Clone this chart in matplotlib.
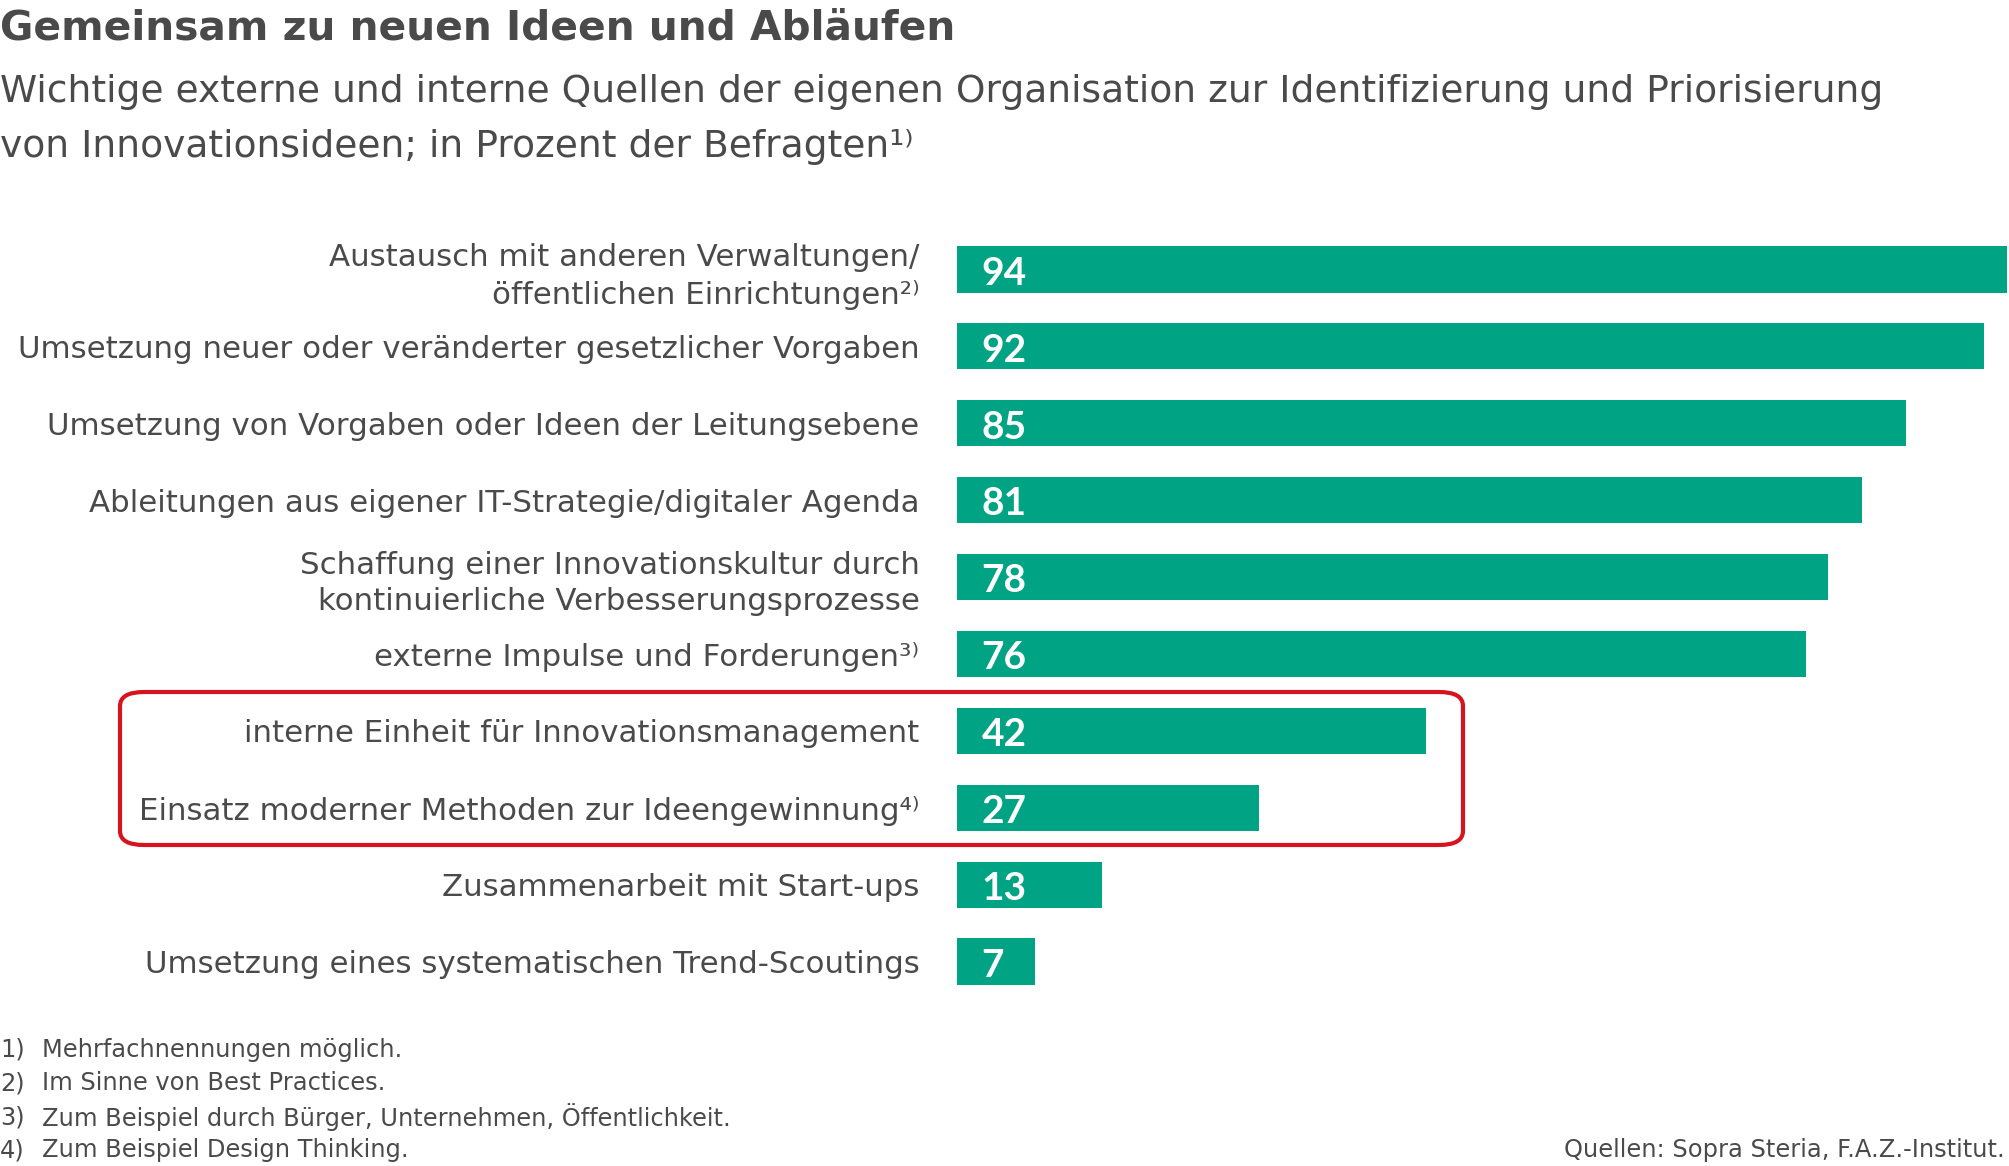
import matplotlib.pyplot as plt
from matplotlib.patches import FancyBboxPatch

plt.rcParams['font.family'] = ['DejaVu Sans']

# Daten
labels = [
    "Austausch mit anderen Verwaltungen/\nöffentlichen Einrichtungen²⁾",
    "Umsetzung neuer oder veränderter gesetzlicher Vorgaben",
    "Umsetzung von Vorgaben oder Ideen der Leitungsebene",
    "Ableitungen aus eigener IT-Strategie/digitaler Agenda",
    "Schaffung einer Innovationskultur durch\nkontinuierliche Verbesserungsprozesse",
    "externe Impulse und Forderungen³⁾",
    "interne Einheit für Innovationsmanagement",
    "Einsatz moderner Methoden zur Ideengewinnung⁴⁾",
    "Zusammenarbeit mit Start-ups",
    "Umsetzung eines systematischen Trend-Scoutings",
]
values = [94, 92, 85, 81, 78, 76, 42, 27, 13, 7]

footnotes = [
    ("1)", "Mehrfachnennungen möglich."),
    ("2)", "Im Sinne von Best Practices."),
    ("3)", "Zum Beispiel durch Bürger, Unternehmen, Öffentlichkeit."),
    ("4)", "Zum Beispiel Design Thinking."),
]
source = "Quellen: Sopra Steria, F.A.Z.-Institut."

title = "Gemeinsam zu neuen Ideen und Abläufen"
subtitle = ("Wichtige externe und interne Quellen der eigenen Organisation zur Identifizierung und Priorisierung\n"
            "von Innovationsideen; in Prozent der Befragten¹⁾")

GREEN = "#00a383"
GREY = "#4a4a4a"
RED = "#d7141e"

W, H = 2009, 1166
fig = plt.figure(figsize=(W / 100, H / 100), dpi=100)

ax = fig.add_axes([957 / W, 1 - 1000 / H, (W - 957) / W, 769 / H])
ypos = list(range(len(values)))
ax.barh(ypos, values, height=0.6, color=GREEN)
ax.set_xlim(0, 94.2)
ax.set_ylim(len(values) - 0.5, -0.5)
ax.set_yticks(ypos)
ax.set_yticklabels(labels, fontsize=22.2, color=GREY, linespacing=1.32)
ax.tick_params(axis='y', length=0, pad=27)
ax.set_xticks([])
for s in ax.spines.values():
    s.set_visible(False)

for y, v in zip(ypos, values):
    ax.text(2.2, y + 0.05, str(v), color="white", fontsize=28, fontweight="bold",
            va="center", ha="left", family="Lato")

# roter Rahmen
box = FancyBboxPatch((120 / W, 1 - 845 / H), (1463 - 120) / W, (845 - 692) / H,
                     boxstyle="round,pad=0,rounding_size=0.012",
                     transform=fig.transFigure, fill=False, edgecolor=RED, linewidth=3)
fig.patches.append(box)

fig.text(0, 1 - 9 / H, title, fontsize=29.3, fontweight="bold", color=GREY, va="top", ha="left")
fig.text(0, 1 - 74 / H, subtitle, fontsize=27.1, color=GREY, va="top", ha="left", linespacing=1.68)

for i, (n, t) in enumerate(footnotes):
    yy = 1 - (1050 + i * 33.5) / H
    fig.text(0, yy, n, fontsize=17.4, color=GREY, va="center", ha="left")
    fig.text(42 / W, yy, t, fontsize=17.4, color=GREY, va="center", ha="left")
fig.text(2005 / W, 1 - (1050 + 3 * 33.5) / H, source, fontsize=17.4, color=GREY, va="center", ha="right")

fig.savefig("out.png", dpi=100)
